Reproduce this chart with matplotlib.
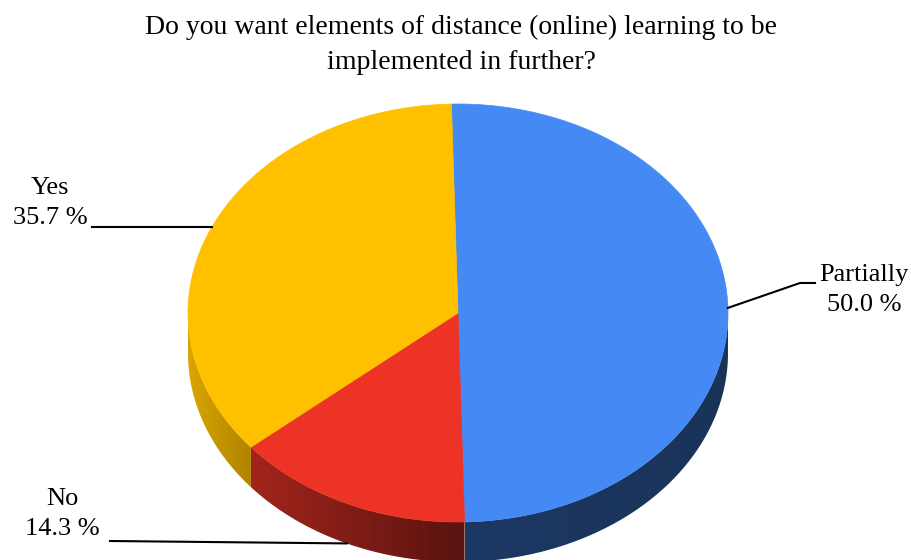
import numpy as np
import matplotlib.pyplot as plt
from matplotlib.patches import Polygon
from matplotlib.colors import LinearSegmentedColormap

plt.rcParams['font.family'] = ['Liberation Serif', 'DejaVu Serif']

# data
labels = ['Partially', 'No', 'Yes']
shares = [50.0, 14.3, 35.7]
top_colors = ['#4589f5', '#ec3325', '#ffc000']
side_colors = [('#1c3864', '#1a3358'), ('#a2251b', '#5a1310'), ('#d9a600', '#b08400')]

# geometry of the tilted pie (pixel space)
cx, cy, rx, ry, depth = 458, 313, 270, 209, 40
start = 91.4

fig = plt.figure(figsize=(9.11, 5.6), dpi=100)
ax = fig.add_axes([0, 0, 1, 1])


def pt(t, dy=0.0):
    r = np.radians(t)
    return cx + rx * np.cos(r), cy - ry * np.sin(r) + dy


bounds = start - 360 * np.cumsum([0] + shares) / 100

# side walls (front half only)
for i in range(len(shares)):
    hi, lo = bounds[i], bounds[i + 1]
    a, b = max(lo, -180), min(hi, 0)
    if a >= b:
        continue
    ts = np.linspace(a, b, 80)
    xt, yt = pt(ts)
    xb, yb = pt(ts[::-1], depth)
    verts = np.column_stack([np.r_[xt, xb], np.r_[yt, yb]])
    poly = Polygon(verts, closed=True, facecolor='none', edgecolor='none')
    ax.add_patch(poly)
    cmap = LinearSegmentedColormap.from_list('w%d' % i, side_colors[i])
    grad = np.linspace(0, 1, 256).reshape(1, -1)
    im = ax.imshow(grad, cmap=cmap, aspect='auto', interpolation='bilinear',
                   extent=[verts[:, 0].min(), verts[:, 0].max(),
                           verts[:, 1].max(), verts[:, 1].min()], zorder=1)
    im.set_clip_path(poly)

# top faces
for i in range(len(shares)):
    ts = np.linspace(bounds[i], bounds[i + 1], 200)
    xs, ys = pt(ts)
    verts = np.column_stack([np.r_[cx, xs], np.r_[cy, ys]])
    ax.add_patch(Polygon(verts, closed=True, facecolor=top_colors[i],
                         edgecolor=top_colors[i], linewidth=0.5, zorder=2))

# leader lines and labels
mids = (bounds[:-1] + bounds[1:]) / 2
lab_pos = [(864, 290), (62, 514), (50, 203)]
for i, lab in enumerate(labels):
    mx, my = pt(mids[i])
    if np.sin(np.radians(mids[i])) < -0.5:
        my += depth
    tx, ty = lab_pos[i]
    if i == 0:
        ax.plot([mx, 800, 815], [my, 283, 283], color='black', lw=1.5, zorder=3)
    elif i == 1:
        ax.plot([110, mx], [541, my], color='black', lw=1.5, zorder=3)
    else:
        ax.plot([92, mx], [my, my], color='black', lw=1.5, zorder=3)
    ax.text(tx, ty, '%s\n%.1f %%' % (lab, shares[i]), ha='center', va='center',
            fontsize=19, linespacing=1.5, zorder=4)

ax.text(461, 45, 'Do you want elements of distance (online) learning to be\nimplemented in further?',
        ha='center', va='center', fontsize=20, linespacing=1.5)

ax.set_xlim(0, 911)
ax.set_ylim(560, 0)
ax.axis('off')

fig.savefig('out.png', dpi=100)
